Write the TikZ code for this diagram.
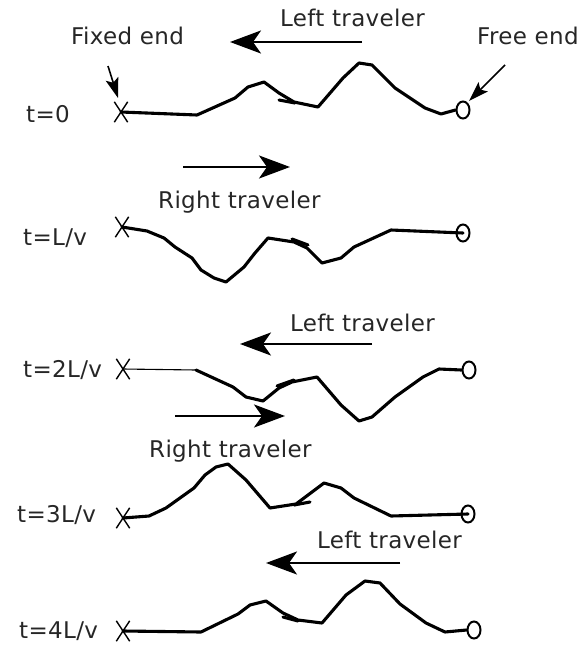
\documentclass[tikz,border=0pt]{standalone}
\usepackage{fontspec}
\setmainfont{DejaVu Sans}[LetterSpace=1.5]
\usetikzlibrary{arrows.meta,shapes.misc,shapes.geometric}
\begin{document}
\begin{tikzpicture}[x=1pt,y=-1pt,
  lbl/.style={font=\fontsize{23}{27}\selectfont, text=black!85, inner sep=0pt, anchor=base west},
  wave/.style={line width=3.1pt, line join=round, line cap=round},
  thinline/.style={line width=1.1pt},
  trav/.style={line width=2.6pt, -{Stealth[length=31pt,width=23pt,inset=8pt]}},
  ptr/.style={line width=1.6pt, -{Stealth[length=20pt,width=13pt,inset=4pt]}},
  xend/.style={cross out, draw, line width=1.4pt, minimum width=12pt, minimum height=19pt, inner sep=0pt},
  oend/.style={ellipse, draw, line width=2pt, minimum width=13pt, minimum height=17pt, inner sep=0pt},
]
\useasboundingbox (0,0) rectangle (581,645);

% ---------- row 1: t=0 ----------
\node[lbl] (lt1) at (280,27) {Left traveler};
\coordinate (a1s) at (362,42);
\coordinate (a1e) at (230,42);
\draw[trav] (a1s) -- (a1e);
\node[lbl] (fixed) at (71,44) {Fixed end};
\node[lbl] (free) at (477,44) {Free end};
\node[lbl] (t0) at (26,122) {t=0};
\node[xend] (X1) at (121,112) {};
\node[oend] (O1) at (463,110) {};
\coordinate (fixtail) at (108,66);
\coordinate (fixtip) at (118,98);
\draw[ptr] (fixtail) -- (fixtip);
\coordinate (freetail) at (505,65);
\coordinate (freetip) at (469,101);
\draw[ptr] (freetail) -- (freetip);
\draw[wave] (X1.center) -- (197,115) -- (235,98) -- (248,87) -- (264,82) -- (279,93) -- (294,102) -- (318,107) -- (343,78) -- (359,63) -- (372,65) -- (395,88) -- (425,108) -- (441,114) -- (O1.west);
\draw[wave] (279,100) -- (295,103);

% ---------- row 2: t=L/v ----------
\coordinate (a2s) at (183,167);
\coordinate (a2e) at (290,167);
\draw[trav] (a2s) -- (a2e);
\node[lbl] (rt1) at (158,208) {Right traveler};
\node[lbl] (t1) at (23,245) {t=L/v};
\node[xend] (X2) at (122,227) {};
\node[oend] (O2) at (463,233) {};
\draw[wave] (X2.center) -- (147,231) -- (164,238) -- (175,247) -- (192,258) -- (201,270) -- (214,278) -- (226,282) -- (244,267) -- (255,253) -- (268,238) -- (294,242) -- (307,248) -- (322,263) -- (341,258) -- (354,247) -- (391,230) -- (O2.center);
\draw[wave] (292,239) -- (308,245);

% ---------- row 3: t=2L/v ----------
\node[lbl] (lt2) at (290,331) {Left traveler};
\coordinate (a3s) at (372,344);
\coordinate (a3e) at (240,344);
\draw[trav] (a3s) -- (a3e);
\node[lbl] (t2) at (23,377) {t=2L/v};
\node[xend] (X3) at (123,369) {};
\node[oend] (O3) at (469,370) {};
\coordinate (w3) at (196,370);
\draw[thinline] (X3.center) -- (w3);
\draw[wave] (w3) -- (233,387) -- (246,397) -- (263,401) -- (279,388) -- (292,382) -- (317,377) -- (341,405) -- (359,421) -- (372,417) -- (395,397) -- (423,377) -- (439,369) -- (O3.west);
\draw[wave] (277,386) -- (294,380);
\coordinate (a4s) at (175,416);
\coordinate (a4e) at (285,416);
\draw[trav] (a4s) -- (a4e);

% ---------- row 4: t=3L/v ----------
\node[lbl] (rt2) at (149,457) {Right traveler};
\node[lbl] (t3) at (17,522) {t=3L/v};
\node[xend] (X4) at (123,518) {};
\node[oend] (O4) at (468,514) {};
\draw[wave] (X4.center) -- (149,516) -- (166,508) -- (194,488) -- (205,475) -- (216,467) -- (228,464) -- (246,480) -- (270,508) -- (296,504) -- (324,483) -- (341,488) -- (354,498) -- (391,516) -- (O4.center);
\draw[wave] (294,505) -- (310,502);

% ---------- row 5: t=4L/v ----------
\node[lbl] (lt3) at (317,548) {Left traveler};
\coordinate (a5s) at (400,563);
\coordinate (a5e) at (266,563);
\draw[trav] (a5s) -- (a5e);
\node[lbl] (t4) at (19,638) {t=4L/v};
\node[xend] (X5) at (123,631) {};
\node[oend] (O5) at (474,630) {};
\draw[wave] (X5.center) -- (201,632) -- (238,614) -- (250,605) -- (266,601) -- (283,613) -- (298,620) -- (322,623) -- (346,595) -- (365,581) -- (380,583) -- (400,604) -- (426,623) -- (445,632) -- (O5.west);
\draw[wave] (283,617) -- (298,621);
\end{tikzpicture}
\end{document}
